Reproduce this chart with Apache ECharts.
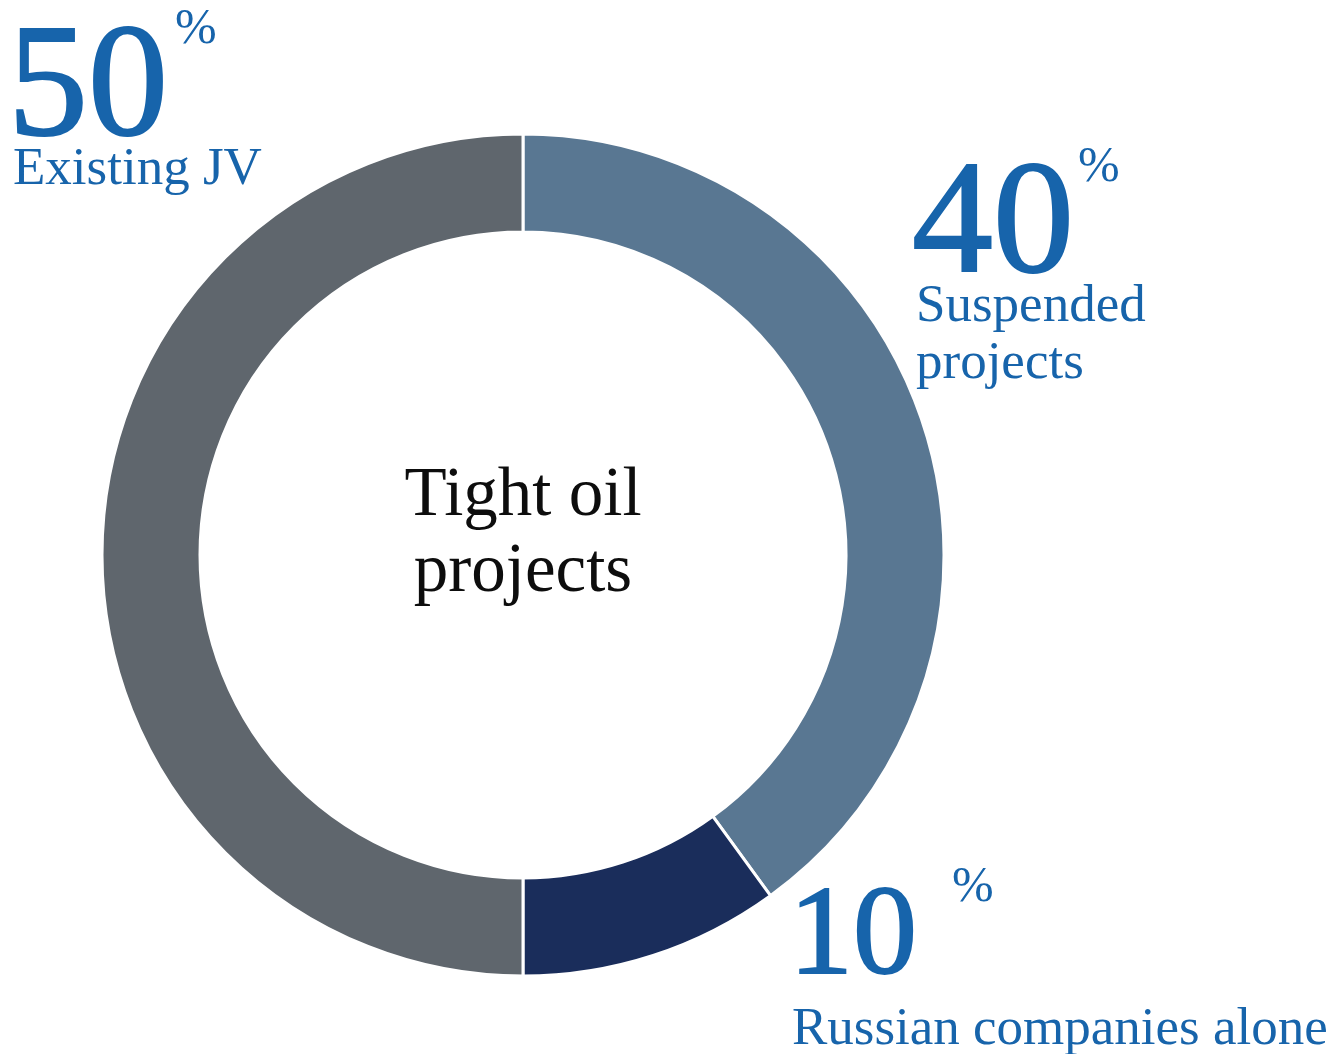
<!DOCTYPE html>
<html>
<head>
<meta charset="utf-8">
<title>Tight oil projects</title>
<script src="https://cdn.jsdelivr.net/npm/echarts@6/dist/echarts.min.js"></script>
<style>
  html, body { margin: 0; padding: 0; background: #fff; }
  #chart { width: 1332px; height: 1054px; }
</style>
</head>
<body>
<div id="chart"></div>
<script>
// Shares of tight oil projects, clockwise from 12 o'clock
const categories = ['Suspended projects', 'Russian companies alone', 'Existing JV'];
const values = [40, 10, 50];
// Label wording (line breaks where the labels wrap)
const labelLines = [['Suspended', 'projects'], ['Russian companies alone'], ['Existing JV']];
const centerLines = ['Tight oil', 'projects'];

const FONT = '"Liberation Serif", "Times New Roman", serif';
const BLUE = '#1764ab';

const chart = echarts.init(document.getElementById('chart'), null, { renderer: 'canvas' });

// Placement of each slice's callout: number box, percent sign, name lines
const callouts = [
  { numX: 912, numY: 228, numSize: 162, pctX: 1078, pctY: 168, nameX: 916, nameY: 307, lineGap: 57 },
  { numX: 789, numY: 939, numSize: 128, pctX: 952, pctY: 888, nameX: 792, nameY: 1030, lineGap: 57 },
  { numX: 8,   numY: 92,  numSize: 160, pctX: 175, pctY: 30,  nameX: 13,  nameY: 170, lineGap: 57 }
];

const graphics = [];
values.forEach(function (v, i) {
  const c = callouts[i];
  graphics.push({
    type: 'text', x: c.numX, y: c.numY,
    style: {
      text: String(v), font: c.numSize + 'px ' + FONT, fill: BLUE,
      stroke: BLUE, lineWidth: 2, align: 'left', verticalAlign: 'middle'
    }
  });
  graphics.push({
    type: 'text', x: c.pctX, y: c.pctY,
    style: { text: '%', font: '50px ' + FONT, fill: BLUE, align: 'left', verticalAlign: 'middle' }
  });
  labelLines[i].forEach(function (line, k) {
    graphics.push({
      type: 'text', x: c.nameX, y: c.nameY + k * c.lineGap,
      style: { text: line, font: '53px ' + FONT, fill: BLUE, align: 'left', verticalAlign: 'middle' }
    });
  });
});
centerLines.forEach(function (line, k) {
  graphics.push({
    type: 'text', x: 523, y: 497 + k * 76,
    style: { text: line, font: '69px ' + FONT, fill: '#0d0d0d', align: 'center', verticalAlign: 'middle' }
  });
});

chart.setOption({
  animation: false,
  backgroundColor: '#ffffff',
  color: ['#597792', '#1a2d5b', '#5f666d'],
  series: [{
    type: 'pie',
    center: [523, 555],
    radius: [323, 421],
    startAngle: 90,
    clockwise: true,
    silent: true,
    label: { show: false },
    labelLine: { show: false },
    itemStyle: { borderColor: '#ffffff', borderWidth: 3 },
    data: categories.map(function (name, i) { return { name: name, value: values[i] }; })
  }],
  graphic: graphics
});
</script>
</body>
</html>
